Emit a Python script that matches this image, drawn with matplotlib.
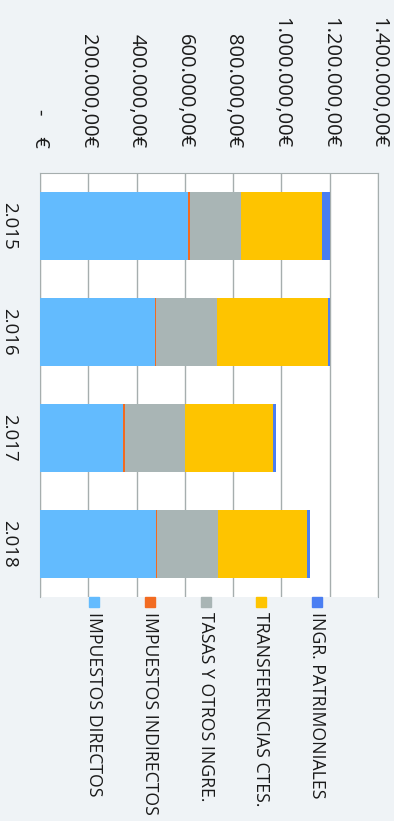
import numpy as np
import matplotlib.pyplot as plt
from matplotlib.patches import Rectangle
from matplotlib.ticker import FuncFormatter, MultipleLocator

plt.rcParams['font.family'] = ['Open Sans', 'DejaVu Sans']

# ingresos por capítulo y año (€)
years = ['2.015', '2.016', '2.017', '2.018']
series = ['IMPUESTOS DIRECTOS', 'IMPUESTOS INDIRECTOS', 'TASAS Y OTROS INGRE.',
          'TRANSFERENCIAS CTES.', 'INGR. PATRIMONIALES']
directos = [614000, 476000, 345000, 479000]
indirectos = [6000, 6000, 5000, 5000]
tasas = [213000, 250000, 251000, 253000]
transferencias = [335000, 460000, 363000, 369000]
patrimoniales = [33000, 10000, 12000, 11000]
colors = ['#63BBFE', '#F26B21', '#A9B5B5', '#FEC400', '#4A7EF2']

W, H = 394, 821
bg = '#EFF3F6'
fig = plt.figure(figsize=(W / 100, H / 100), dpi=100, facecolor=bg)
ax = fig.add_axes([40 / W, 1 - 597 / H, 338 / W, 424 / H])
ax.set_facecolor('white')

y = np.arange(len(years))
left = np.zeros(len(years))
for vals, col in zip([directos, indirectos, tasas, transferencias, patrimoniales], colors):
    ax.barh(y, vals, left=left, height=0.64, color=col, zorder=3)
    left += np.array(vals)

ax.set_xlim(0, 1400000)
ax.set_ylim(len(years) - 0.5, -0.5)
ax.xaxis.set_major_locator(MultipleLocator(200000))
ax.grid(axis='x', color='#A6AEAE', linewidth=1, zorder=1)


def euros(v, pos):
    if v == 0:
        return '-    €'
    s = f'{v:,.2f}'.replace(',', 'X').replace('.', ',').replace('X', '.')
    return s + '€'


ax.xaxis.set_major_formatter(FuncFormatter(euros))
ax.xaxis.tick_top()
ax.tick_params(axis='x', length=0, pad=18, labelsize=14.5, labelrotation=270, colors='#1a1a1a')
ax.set_yticks(y)
ax.set_yticklabels(years)
ax.tick_params(axis='y', length=0, pad=16, labelsize=13.5, labelrotation=270, colors='#1a1a1a')
for lab in ax.get_yticklabels():
    lab.set_va('center')

for s in ['top', 'left', 'right']:
    ax.spines[s].set_color('#A6AEAE')
ax.spines['bottom'].set_visible(False)

# leyenda manual con el texto girado
for i, (name, col) in enumerate(zip(series, colors)):
    cx = 94 + i * 55.8
    fig.add_artist(Rectangle(((cx - 5) / W, 1 - 607 / H), 10 / W, 10 / H,
                             transform=fig.transFigure, color=col))
    fig.text(cx / W, 1 - 612 / H, name, rotation=270, ha='center', va='top',
             fontsize=12.7, color='#1a1a1a')

fig.savefig('out.png', dpi=100, facecolor=bg)
